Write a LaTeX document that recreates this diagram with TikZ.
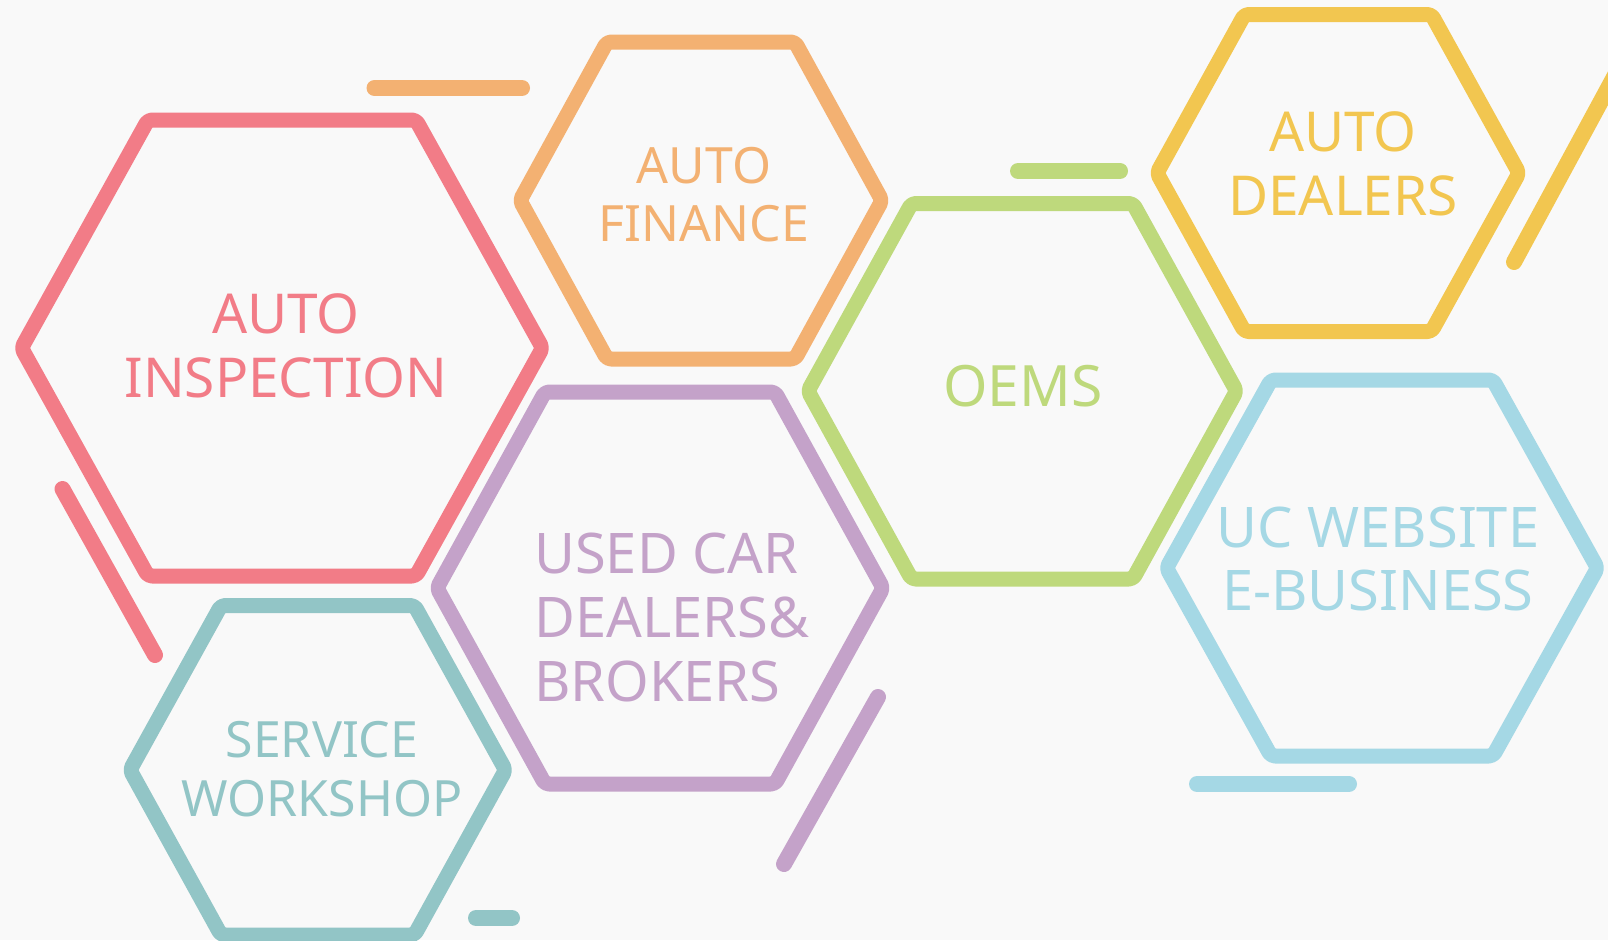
\documentclass[tikz,border=0pt]{standalone}
\usepackage{fontspec}
\setmainfont{Noto Sans}
\usetikzlibrary{backgrounds}
\pgfdeclarelayer{edgelayer}
\pgfdeclarelayer{nodelayer}
\pgfsetlayers{edgelayer,nodelayer,main}
\definecolor{pinkc}{RGB}{242,124,135}
\definecolor{orangec}{RGB}{243,177,114}
\definecolor{yellowc}{RGB}{242,198,80}
\definecolor{greenc}{RGB}{190,217,124}
\definecolor{bluec}{RGB}{165,216,229}
\definecolor{purplec}{RGB}{196,162,201}
\definecolor{tealc}{RGB}{146,197,198}
\definecolor{paper}{RGB}{249,249,249}
\tikzstyle{hexline}=[line width=15pt,line join=round,rounded corners=4pt]
\tikzstyle{bar}=[line width=16pt,line cap=round]
\tikzstyle{label}=[inner sep=0pt,align=center]

\begin{document}
\begin{tikzpicture}[x=1pt,y=-1pt]
	\useasboundingbox (0,0) rectangle (1608,940);
	\begin{pgfonlayer}{nodelayer}
		\node [style=label, text=pinkc, font=\fontsize{55}{64}\selectfont] (inspection) at (286,346) {AUTO\\INSPECTION};
		\node [style=label, text=orangec, font=\fontsize{50}{57.7}\selectfont] (finance) at (704,194.7) {AUTO\\FINANCE};
		\node [style=label, text=yellowc, font=\fontsize{55}{64}\selectfont] (dealers) at (1343,163.7) {AUTO\\DEALERS};
		\node [style=label, text=greenc, font=\fontsize{57}{64}\selectfont] (oems) at (1023,386) {OEMS};
		\node [style=label, text=bluec, font=\fontsize{56}{63.4}\selectfont] (website) at (1378,559.2) {UC WEBSITE\\E-BUSINESS};
		\node [style=label, text=purplec, font=\fontsize{56}{64}\selectfont, anchor=west, align=left] (usedcar) at (534,617.5) {USED CAR\\DEALERS\&\\BROKERS};
		\node [style=label, text=tealc, font=\fontsize{50}{58.4}\selectfont] (workshop) at (322,769.2) {SERVICE\\WORKSHOP};
	\end{pgfonlayer}
	\begin{pgfonlayer}{edgelayer}
		\clip (0,0) rectangle (1608,940);
		\fill [paper] (0,0) rectangle (1608,940);
		% hexagons
		\draw [style=hexline, pinkc] (21.5,348) -- (148,120) -- (416,120) -- (542.5,348) -- (416,576) -- (148,576) -- cycle;
		\draw [style=hexline, orangec] (520,200.5) -- (607,42) -- (795,42) -- (882,200.5) -- (795,359) -- (607,359) -- cycle;
		\draw [style=hexline, yellowc] (1157,173) -- (1244.5,14.5) -- (1431.5,14.5) -- (1519,173) -- (1431.5,331.5) -- (1244.5,331.5) -- cycle;
		\draw [style=hexline, greenc] (808,391) -- (911.5,203.5) -- (1133,203.5) -- (1236.5,391) -- (1133,579) -- (911.5,579) -- cycle;
		\draw [style=hexline, bluec] (1166.5,568) -- (1271,380) -- (1493,380) -- (1597.5,568) -- (1493,756) -- (1271,756) -- cycle;
		\draw [style=hexline, purplec] (437,588) -- (545,392) -- (775,392) -- (883,588) -- (775,784) -- (545,784) -- cycle;
		\draw [style=hexline, tealc] (130,770) -- (221,605.5) -- (414.5,605.5) -- (505.5,770) -- (414.5,935) -- (221,935) -- cycle;
		% bars
		\draw [style=bar, orangec] (374.5,88) -- (522,88);
		\draw [style=bar, greenc] (1018,171) -- (1120,171);
		\draw [style=bar, bluec] (1197,784) -- (1349,784);
		\draw [style=bar, tealc] (476,918) -- (512,918);
		\draw [style=bar, pinkc] (62.5,489) -- (155,655);
		\draw [style=bar, purplec] (878,697) -- (784,864);
		\draw [style=bar, yellowc] (1514,262) -- (1620,66);
	\end{pgfonlayer}
\end{tikzpicture}
\end{document}
